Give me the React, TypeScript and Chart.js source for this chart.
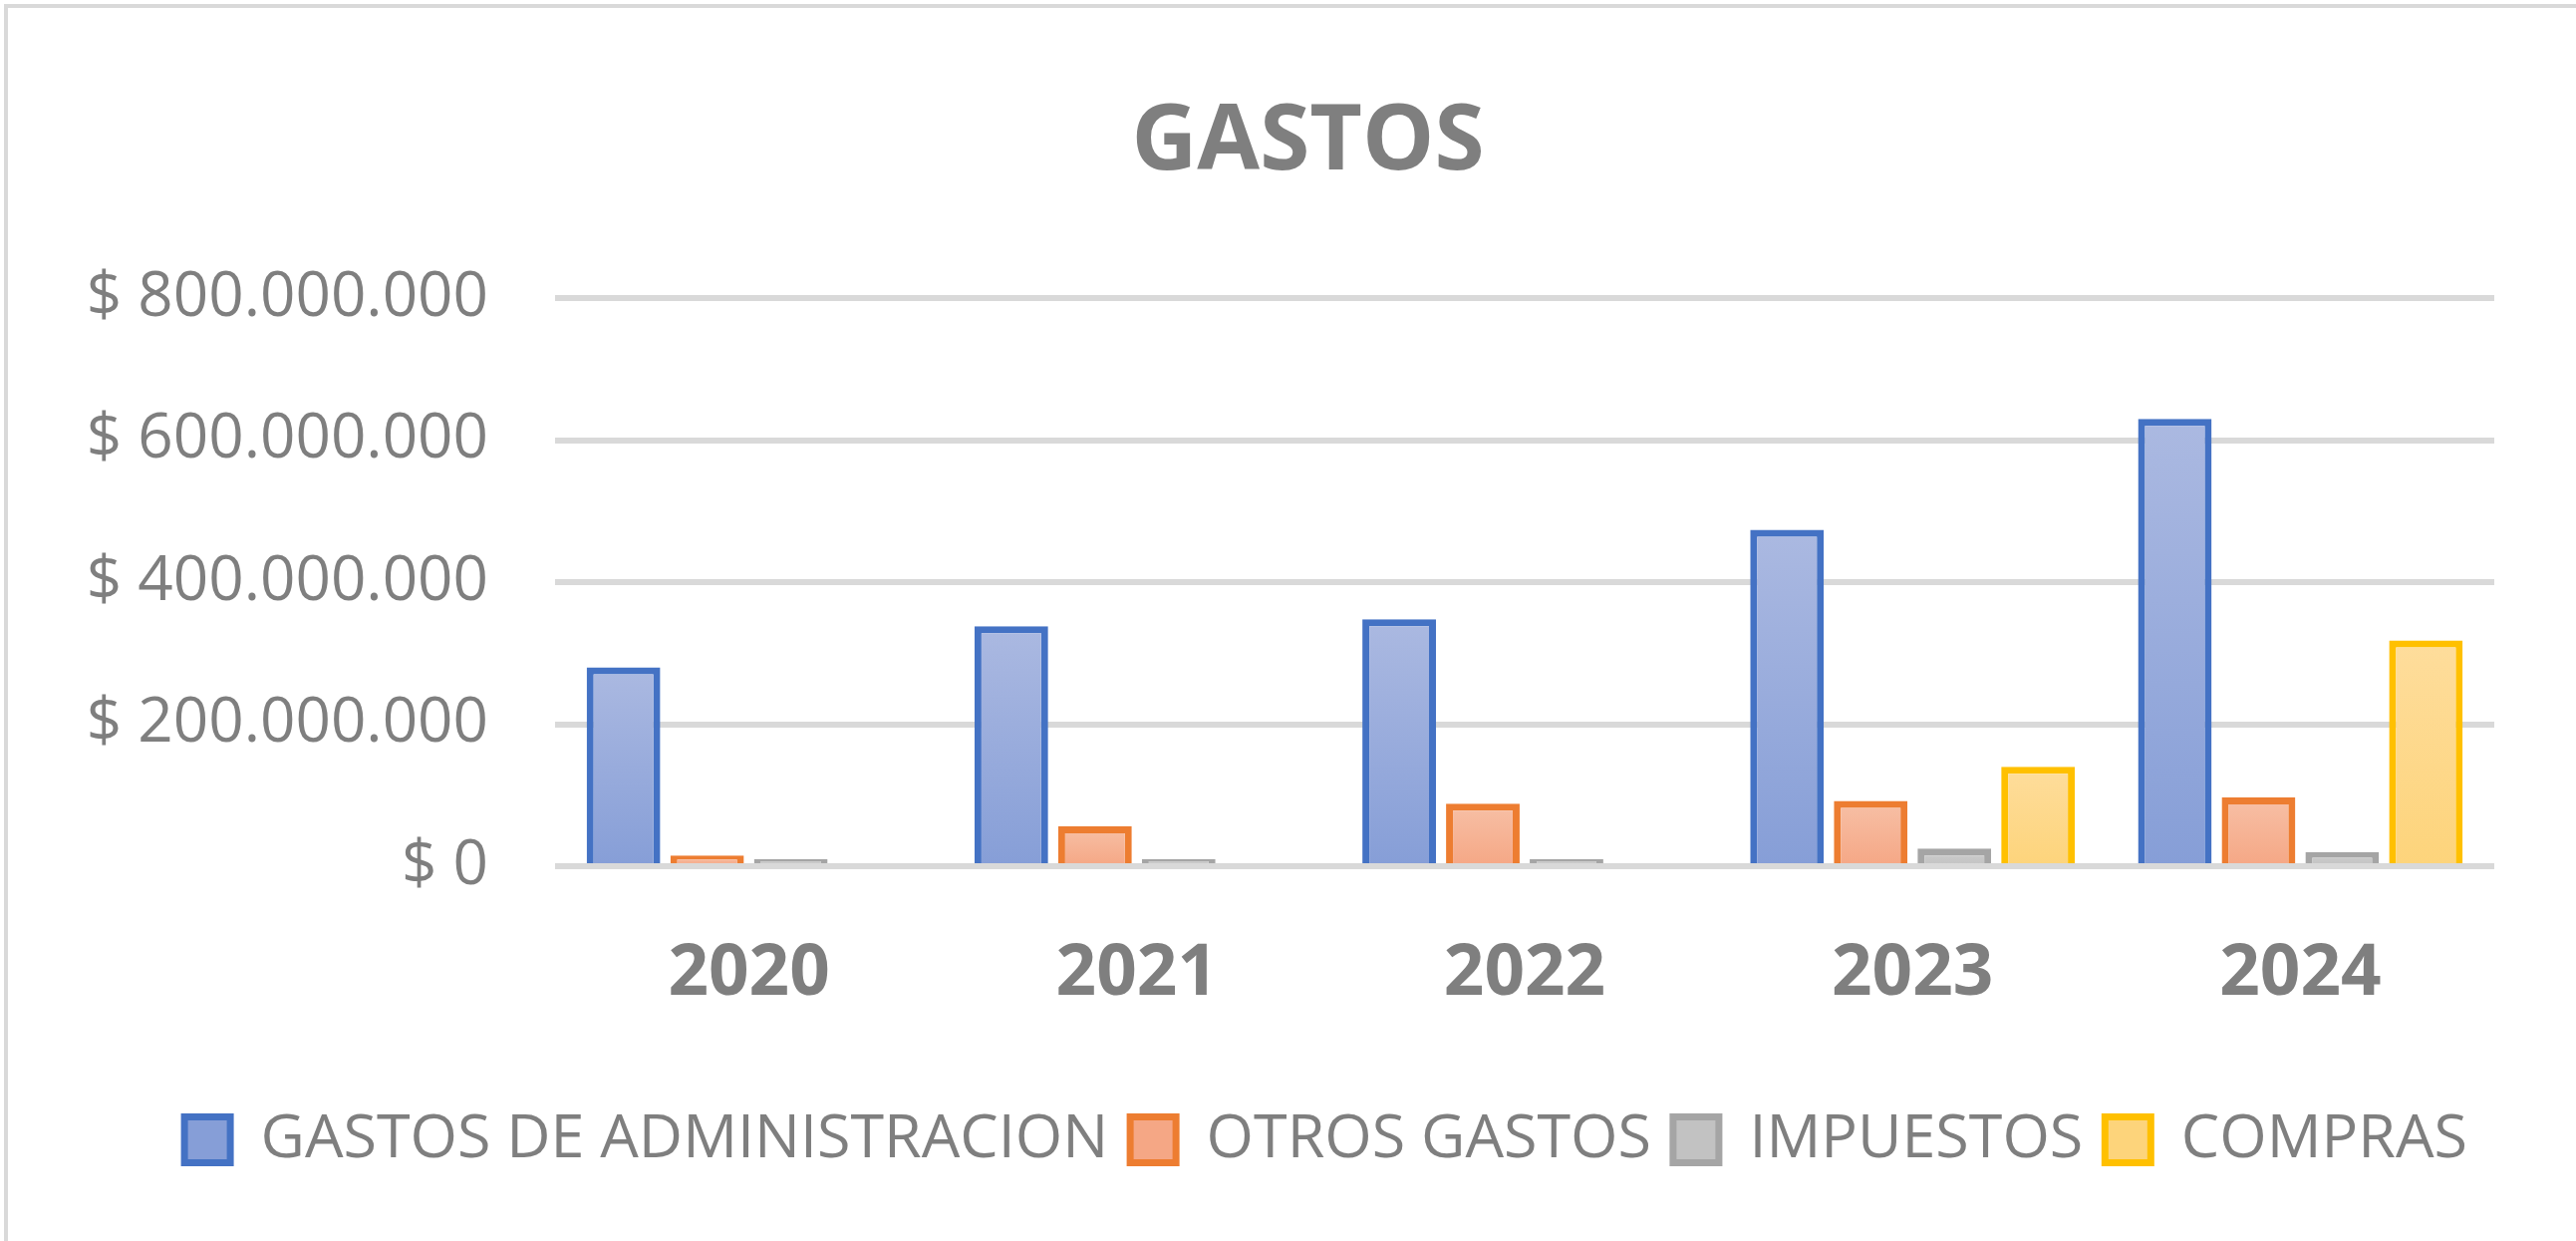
import React, { useEffect, useRef } from "react";
import { Chart, registerables } from "chart.js";

Chart.register(...registerables);

const categories = ["2020", "2021", "2022", "2023", "2024"];
const seriesNames = ["GASTOS DE ADMINISTRACION", "OTROS GASTOS", "IMPUESTOS", "COMPRAS"];
const gastosAdministracion = [280000000, 338000000, 348000000, 474000000, 630000000];
const otrosGastos = [15000000, 56000000, 88000000, 92000000, 97000000];
const impuestos = [10000000, 10000000, 10000000, 25000000, 20000000];
const compras = [null, null, null, 140000000, 318000000];
const yTicks = [0, 200000000, 400000000, 600000000, 800000000];

const borderColors = ["#4472c4", "#ed7d31", "#a5a5a5", "#ffc000"];
const fillTop = ["#abb9e1", "#f7c0a6", "#cfcfcf", "#fedd9c"];
const fillBottom = ["#869ed7", "#f5a785", "#c2c2c2", "#fdd47b"];

const TEXT = "#7f7f7f";
const FONT = "'Open Sans', 'Liberation Sans', sans-serif";

function fmt(v: number): string {
  const s = Math.round(v).toString().replace(/\B(?=(\d{3})+(?!\d))/g, ".");
  return "$ " + s;
}

function makeFill(i: number) {
  return (ctx: any) => {
    const chart = ctx.chart;
    const y = chart.scales && chart.scales.y;
    const area = chart.chartArea;
    if (!y || !area) return fillBottom[i];
    const raw = ctx.raw;
    let top = area.top;
    if (typeof raw === "number") top = y.getPixelForValue(raw);
    const bottom = y.getPixelForValue(0);
    if (!(bottom > top + 1)) return fillBottom[i];
    const g = chart.ctx.createLinearGradient(0, top, 0, bottom);
    g.addColorStop(0, fillTop[i]);
    g.addColorStop(1, fillBottom[i]);
    return g;
  };
}

const shiftPlugin = {
  id: "shiftBlocks",
  afterLayout(chart: any) {
    const l = chart.legend;
    if (l) {
      l.left += 79;
      l.right += 79;
    }
    const t = chart.titleBlock;
    if (t) {
      t.left += 61;
      t.right += 61;
    }
  },
};

export default function App() {
  const ref = useRef<HTMLCanvasElement | null>(null);
  useEffect(() => {
    if (!ref.current) return;
    const allData = [gastosAdministracion, otrosGastos, impuestos, compras];
    const chart = new Chart(ref.current, {
      type: "bar",
      data: {
        labels: categories,
        datasets: seriesNames.map((name, i) => ({
          label: name,
          data: allData[i] as any,
          backgroundColor: makeFill(i) as any,
          borderColor: borderColors[i],
          borderWidth: 7,
          borderSkipped: "start" as any,
          categoryPercentage: 0.863,
          barPercentage: 0.88,
        })),
      },
      plugins: [shiftPlugin],
      options: {
        responsive: false,
        animation: false,
        layout: { padding: { left: 0, right: 82, top: 0, bottom: 61 } },
        plugins: {
          title: {
            display: true,
            text: "GASTOS",
            color: TEXT,
            font: { family: FONT, size: 91, weight: "bold" },
            padding: { top: 89, bottom: 101 },
          },
          legend: {
            position: "bottom",
            labels: {
              color: TEXT,
              font: { family: FONT, size: 61 },
              boxWidth: 46,
              boxHeight: 46,
              padding: 22,
            },
          },
          tooltip: { enabled: false },
        },
        scales: {
          x: {
            grid: { display: false, drawTicks: false },
            border: { display: false },
            ticks: {
              color: TEXT,
              font: { family: FONT, size: 71, weight: "bold" },
              padding: 66,
            },
            afterFit: (s: any) => {
              s.height = 222;
            },
          },
          y: {
            min: 0,
            max: 800000000,
            grid: { color: "#d9d9d9", lineWidth: 6, drawTicks: false },
            border: { display: false },
            afterBuildTicks: (s: any) => {
              s.ticks = yTicks.map((v) => ({ value: v }));
            },
            ticks: {
              color: TEXT,
              font: { family: FONT, size: 62 },
              padding: 67,
              callback: (v: any) => fmt(Number(v)),
            },
            afterFit: (s: any) => {
              s.width = 557;
            },
          },
        },
      },
    });
    return () => chart.destroy();
  }, []);
  return (
    <div style={{ position: "fixed", left: 0, top: 0, width: 2585, height: 1245, background: "#fff", overflow: "hidden" }}>
      <div
        style={{
          position: "absolute",
          left: 4,
          top: 4,
          width: 2620,
          height: 1280,
          border: "4px solid #d9d9d9",
          boxSizing: "border-box",
        }}
      />
      <canvas ref={ref} width={2585} height={1245} style={{ position: "absolute", left: 0, top: 0 }} />
    </div>
  );
}
